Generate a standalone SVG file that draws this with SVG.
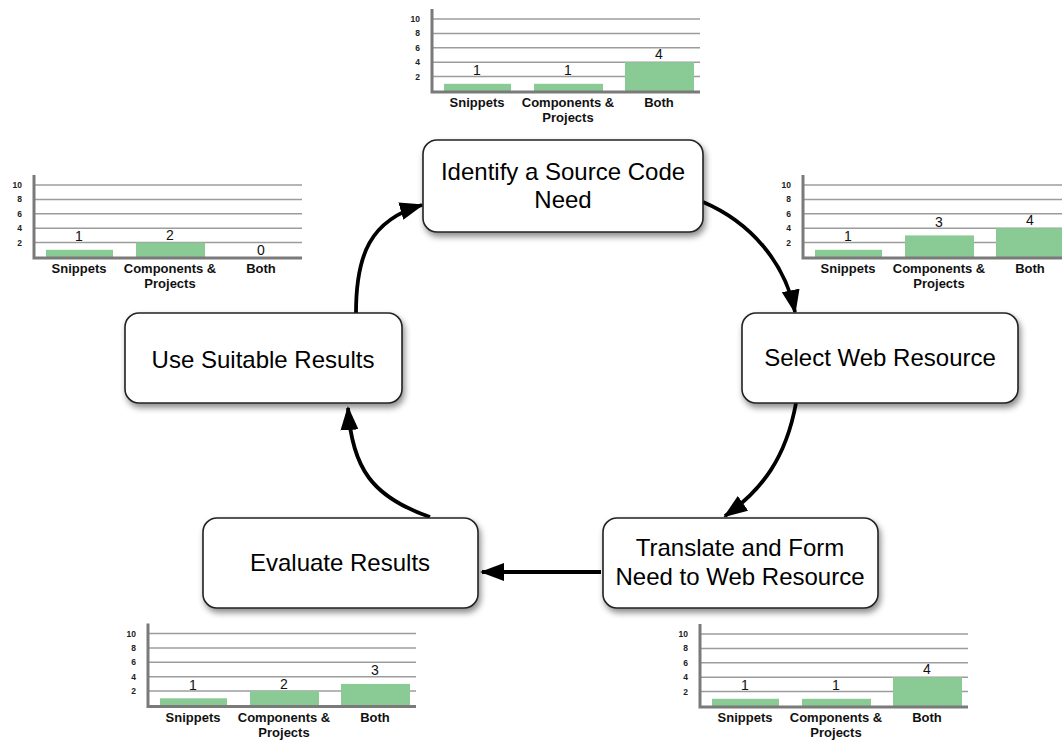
<svg xmlns="http://www.w3.org/2000/svg" xmlns:xlink="http://www.w3.org/1999/xlink" width="1062" height="742" viewBox="0 0 1062 742">
<style>
.box{fill:#fff;stroke:#222;stroke-width:1.6;filter:url(#sh)}
.bt{font-family:"Liberation Sans",Arial,sans-serif;font-size:24px;fill:#000;text-anchor:middle}
.grid{stroke:#9c9c9c;stroke-width:1.5}
.axis{stroke:#7a7a7a;stroke-width:3;fill:none}
.yl{font-family:"Liberation Sans",Arial,sans-serif;font-size:8.5px;font-weight:bold;fill:#222;text-anchor:end}
.cl{font-family:"Liberation Sans",Arial,sans-serif;font-size:13px;font-weight:bold;fill:#111;text-anchor:middle}
.vl{font-family:"Liberation Sans",Arial,sans-serif;font-size:14px;fill:#111;text-anchor:middle}
.bar{fill:#8acb95}
.conn{fill:none;stroke:#000;stroke-width:3.8;marker-end:url(#ah)}
</style>
<defs>
<filter id="sh" x="-10%" y="-20%" width="130%" height="150%">
<feDropShadow dx="2" dy="4" stdDeviation="3" flood-color="#000" flood-opacity="0.45"/>
</filter>
<marker id="ah" viewBox="0 0 24 18" refX="22" refY="9" markerWidth="24" markerHeight="18" markerUnits="userSpaceOnUse" orient="auto">
<path d="M0,0 L24,9 L0,18 z" fill="#000"/>
</marker>
<g id="chartBase">
<line class="grid" x1="0" y1="-14.4" x2="268" y2="-14.4"/>
<line class="grid" x1="0" y1="-28.8" x2="268" y2="-28.8"/>
<line class="grid" x1="0" y1="-43.2" x2="268" y2="-43.2"/>
<line class="grid" x1="0" y1="-57.6" x2="268" y2="-57.6"/>
<line class="grid" x1="0" y1="-72" x2="268" y2="-72"/>
<text class="yl" x="-12" y="-11.4">2</text>
<text class="yl" x="-12" y="-25.8">4</text>
<text class="yl" x="-12" y="-40.2">6</text>
<text class="yl" x="-12" y="-54.6">8</text>
<text class="yl" x="-12" y="-69">10</text>
<text class="cl" x="45" y="16">Snippets</text>
<text class="cl" x="136" y="16">Components &amp;</text>
<text class="cl" x="136" y="31">Projects</text>
<text class="cl" x="227" y="16">Both</text>
</g>
<path id="chartAxis" class="axis" d="M0,-82 L0,1 L268,1"/>
</defs>

<g id="chart-top" transform="translate(432,91)">
<use xlink:href="#chartBase"/>
<rect class="bar" x="12" y="-7.2" width="67" height="7.2"/>
<rect class="bar" x="102" y="-7.2" width="69" height="7.2"/>
<rect class="bar" x="193" y="-28.8" width="69" height="28.8"/>
<use xlink:href="#chartAxis"/>
<text class="vl" x="45" y="-16">1</text>
<text class="vl" x="136" y="-16">1</text>
<text class="vl" x="227" y="-32">4</text>
</g>

<g id="chart-left" transform="translate(34,257)">
<use xlink:href="#chartBase"/>
<rect class="bar" x="12" y="-7.2" width="67" height="7.2"/>
<rect class="bar" x="102" y="-14.4" width="69" height="14.4"/>
<use xlink:href="#chartAxis"/>
<text class="vl" x="45" y="-16">1</text>
<text class="vl" x="136" y="-17">2</text>
<text class="vl" x="227" y="-2">0</text>
</g>

<g id="chart-right" transform="translate(803,257)">
<use xlink:href="#chartBase"/>
<rect class="bar" x="12" y="-7.2" width="67" height="7.2"/>
<rect class="bar" x="102" y="-21.6" width="69" height="21.6"/>
<rect class="bar" x="193" y="-28.8" width="69" height="28.8"/>
<use xlink:href="#chartAxis"/>
<text class="vl" x="45" y="-16">1</text>
<text class="vl" x="136" y="-30">3</text>
<text class="vl" x="227" y="-32">4</text>
</g>

<g id="chart-bottom-left" transform="translate(148,705.5)">
<use xlink:href="#chartBase"/>
<rect class="bar" x="12" y="-7.2" width="67" height="7.2"/>
<rect class="bar" x="102" y="-14.4" width="69" height="14.4"/>
<rect class="bar" x="193" y="-21.6" width="69" height="21.6"/>
<use xlink:href="#chartAxis"/>
<text class="vl" x="45" y="-16">1</text>
<text class="vl" x="136" y="-17">2</text>
<text class="vl" x="227" y="-31">3</text>
</g>

<g id="chart-bottom-right" transform="translate(700,706)">
<use xlink:href="#chartBase"/>
<rect class="bar" x="12" y="-7.2" width="67" height="7.2"/>
<rect class="bar" x="102" y="-7.2" width="69" height="7.2"/>
<rect class="bar" x="193" y="-28.8" width="69" height="28.8"/>
<use xlink:href="#chartAxis"/>
<text class="vl" x="45" y="-16">1</text>
<text class="vl" x="136" y="-16">1</text>
<text class="vl" x="227" y="-32">4</text>
</g>

<g id="connectors">
<path class="conn" d="M703,202 C750,222 785,262 795,312"/>
<path class="conn" d="M796,403 C786,458 762,490 725,516"/>
<path class="conn" d="M601,572 L482,572"/>
<path class="conn" d="M430,517 C372,497 352,468 348,408"/>
<path class="conn" d="M356,313 C356,255 370,220 422,205"/>
</g>

<g id="node-identify">
<rect class="box" x="423" y="140" width="280" height="92" rx="14"/>
<text class="bt" x="563" y="180">Identify a Source Code</text>
<text class="bt" x="563" y="208">Need</text>
</g>
<g id="node-select">
<rect class="box" x="742" y="313" width="276" height="90" rx="14"/>
<text class="bt" x="880" y="366">Select Web Resource</text>
</g>
<g id="node-translate">
<rect class="box" x="603" y="518" width="275" height="90" rx="14"/>
<text class="bt" x="740" y="556">Translate and Form</text>
<text class="bt" x="740" y="585">Need to Web Resource</text>
</g>
<g id="node-evaluate">
<rect class="box" x="203" y="518" width="275" height="90" rx="14"/>
<text class="bt" x="340" y="571">Evaluate Results</text>
</g>
<g id="node-use">
<rect class="box" x="125" y="313" width="277" height="90" rx="14"/>
<text class="bt" x="263" y="368">Use Suitable Results</text>
</g>
</svg>
